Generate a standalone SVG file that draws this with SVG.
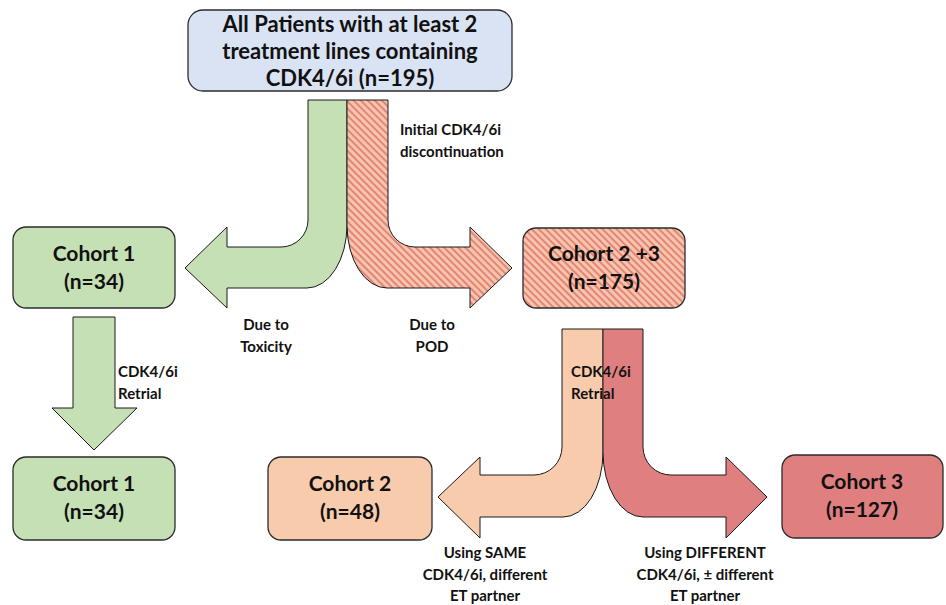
<svg xmlns="http://www.w3.org/2000/svg" width="946" height="605" viewBox="0 0 946 605">
<defs>
<pattern id="stripes" patternUnits="userSpaceOnUse" width="5" height="5" patternTransform="rotate(45)">
<rect width="5" height="5" fill="#f7c6a8"/>
<rect width="5" height="2" fill="#e3847e"/>
</pattern>
</defs>
<style>
.box{stroke:#2b2b2b;stroke-width:1.3}
.arr{stroke:#1a1a1a;stroke-width:1}
.t{font-family:Lato,"Liberation Sans",sans-serif;font-weight:bold;fill:#111;text-anchor:middle}
.big{font-size:22px}
.mid{font-size:21px}
.sm{font-size:15px}
.lft{text-anchor:start}
</style>
<g id="connectors">
<path class="arr" fill="#c5e0b4" d="M308,100 H347 V225 A40,63 0 0 1 307,288 H227 V308 L185,268 L227,227 V247 H281 A27,27 0 0 0 308,220 Z"/>
<path class="arr" fill="url(#stripes)" d="M347,100 H388 V220 A27,27 0 0 0 415,247 H470 V227 L512,268 L470,308 V288 H387 A40,63 0 0 1 347,225 Z"/>
<path class="arr" fill="#c5e0b4" d="M73,317 H115 V408 H137 L94,450 L52,408 H73 Z"/>
<path class="arr" fill="#f8cbad" d="M562,329 H603 V452 A40,65 0 0 1 563,517 H480 V538 L438,497 L480,457 V475 H534 A28,28 0 0 0 562,447 Z"/>
<path class="arr" fill="#e07f7f" d="M603,329 H643 V447 A28,28 0 0 0 671,475 H726 V457 L767,497 L726,538 V517 H643 A40,65 0 0 1 603,452 Z"/>
<text class="t sm lft" x="400" y="135">Initial CDK4/6i</text>
<text class="t sm lft" x="400" y="157">discontinuation</text>
<text class="t sm" x="266" y="330">Due to</text>
<text class="t sm" x="266" y="352">Toxicity</text>
<text class="t sm" x="432" y="330">Due to</text>
<text class="t sm" x="432" y="352">POD</text>
<text class="t sm lft" x="118" y="377">CDK4/6i</text>
<text class="t sm lft" x="118" y="399">Retrial</text>
<text class="t sm lft" x="571" y="377">CDK4/6i</text>
<text class="t sm lft" x="571" y="399">Retrial</text>
<text class="t sm" x="485" y="558">Using SAME</text>
<text class="t sm" x="485" y="580">CDK4/6i, different</text>
<text class="t sm" x="485" y="601">ET partner</text>
<text class="t sm" x="705" y="558">Using DIFFERENT</text>
<text class="t sm" x="705" y="580">CDK4/6i, ± different</text>
<text class="t sm" x="705" y="601">ET partner</text>
</g>
<g id="top">
<rect class="box" x="188" y="10" width="324" height="81" rx="15" fill="#dae3f3"/>
<text class="t big" x="350" y="32">All Patients with at least 2</text>
<text class="t big" x="350" y="59">treatment lines containing</text>
<text class="t big" x="350" y="86">CDK4/6i (n=195)</text>
</g>
<g id="cohort1a">
<rect class="box" x="13" y="227" width="162" height="81" rx="13" fill="#c5e0b4"/>
<text class="t mid" x="94" y="261">Cohort 1</text>
<text class="t mid" x="94" y="289">(n=34)</text>
</g>
<g id="cohort23">
<rect class="box" x="523" y="228" width="162" height="80" rx="13" fill="url(#stripes)"/>
<text class="t mid" x="604" y="261">Cohort 2 +3</text>
<text class="t mid" x="604" y="289">(n=175)</text>
</g>
<g id="cohort1b">
<rect class="box" x="13" y="457" width="162" height="83" rx="13" fill="#c5e0b4"/>
<text class="t mid" x="94" y="491">Cohort 1</text>
<text class="t mid" x="94" y="519">(n=34)</text>
</g>
<g id="cohort2">
<rect class="box" x="268" y="457" width="164" height="83" rx="13" fill="#f8cbad"/>
<text class="t mid" x="350" y="491">Cohort 2</text>
<text class="t mid" x="350" y="519">(n=48)</text>
</g>
<g id="cohort3">
<rect class="box" x="782" y="455" width="161" height="83" rx="13" fill="#e07f7f"/>
<text class="t mid" x="862" y="489">Cohort 3</text>
<text class="t mid" x="862" y="517">(n=127)</text>
</g>
</svg>
